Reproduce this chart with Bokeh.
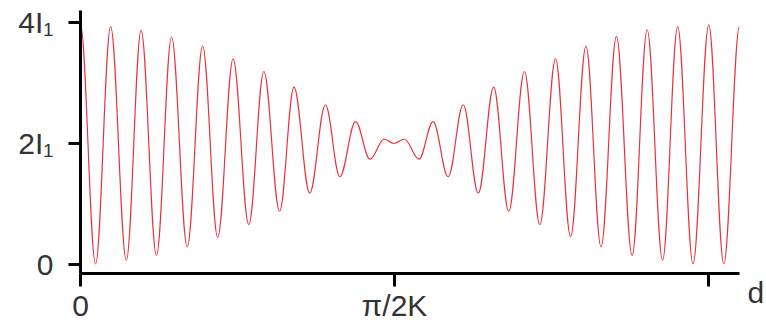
from bokeh.plotting import figure
from bokeh.models import Range1d, FixedTicker, Label, ColumnDataSource
from bokeh.embed import file_html
from bokeh.resources import INLINE

# extrema of the intensity curve
# d in units of pi/2K, intensity in units of I1
d_ext = [0.000, 0.048, 0.096, 0.146, 0.193, 0.242, 0.290, 0.340, 0.389, 0.437,
         0.486, 0.536, 0.584, 0.634, 0.680, 0.730, 0.780, 0.826, 0.876, 0.922,
         0.967, 0.998, 1.032, 1.078, 1.123, 1.171, 1.219, 1.267, 1.316, 1.364,
         1.414, 1.463, 1.513, 1.561, 1.610, 1.658, 1.707, 1.757, 1.805, 1.854,
         1.902, 1.951, 2.001, 2.049, 2.099]
i_ext = [3.95, 0.01, 3.93, 0.07, 3.87, 0.15, 3.76, 0.29, 3.61, 0.45,
         3.40, 0.66, 3.19, 0.88, 2.93, 1.18, 2.64, 1.45, 2.36, 1.74,
         2.07, 2.00, 2.07, 1.74, 2.36, 1.45, 2.64, 1.18, 2.93, 0.88,
         3.19, 0.66, 3.40, 0.46, 3.61, 0.29, 3.77, 0.15, 3.88, 0.07,
         3.93, 0.01, 3.96, 0.01, 3.93]

x_ticks = [0, 1, 2]
x_tick_labels = ["0", "π/2K", ""]
y_ticks = [0, 2, 4]
y_tick_labels = ["0", "2I₁", "4I₁"]
x_label = "d"

TEXT = "#333333"
FONT = "Liberation Sans"

p = figure(width=766, height=324, output_backend="svg", toolbar_location=None,
           x_range=Range1d(0, 2.099), y_range=Range1d(-0.149, 4.198),
           min_border_left=80, min_border_right=27, min_border_top=10,
           min_border_bottom=51)
p.outline_line_color = None
p.grid.visible = False
p.background_fill_color = "white"

# smooth curve through the extrema, drawn with bezier segments (horizontal tangents)
a = 0.3634
x0 = d_ext[:-1]
x1 = d_ext[1:]
y0 = i_ext[:-1]
y1 = i_ext[1:]
cx0 = [u + a * (v - u) for u, v in zip(x0, x1)]
cx1 = [v - a * (v - u) for u, v in zip(x0, x1)]
src = ColumnDataSource(dict(x0=x0, y0=y0, x1=x1, y1=y1, cx0=cx0, cy0=y0, cx1=cx1, cy1=y1))
p.bezier(x0="x0", y0="y0", x1="x1", y1="y1", cx0="cx0", cy0="cy0", cx1="cx1", cy1="cy1",
         source=src, line_color="#e8333b", line_width=1.2)

for ax in (p.xaxis[0], p.yaxis[0]):
    ax.axis_line_width = 3
    ax.axis_line_color = "black"
    ax.major_tick_line_width = 3
    ax.major_tick_line_color = "black"
    ax.major_tick_in = 0
    ax.minor_tick_line_color = None
    ax.major_label_text_font = FONT
    ax.major_label_text_font_size = "30px"
    ax.major_label_text_color = TEXT

p.xaxis.ticker = FixedTicker(ticks=x_ticks)
p.xaxis.major_label_overrides = {t: s for t, s in zip(x_ticks, x_tick_labels)}
p.xaxis.major_tick_out = 13
p.xaxis.major_label_standoff = 2

p.yaxis.ticker = FixedTicker(ticks=y_ticks)
p.yaxis.major_label_overrides = {t: s for t, s in zip(y_ticks, y_tick_labels)}
p.yaxis.major_tick_out = 12
p.yaxis.major_label_standoff = 15

# axis name, placed in the right side panel so it is not clipped to the frame
p.add_layout(Label(x=2.099, y=-0.149, x_offset=8, y_offset=-19, text=x_label,
                   text_font=FONT, text_font_size="30px", text_color=TEXT,
                   text_baseline="alphabetic", text_align="left"), "right")

open("out.html", "w").write(file_html(p, INLINE))
